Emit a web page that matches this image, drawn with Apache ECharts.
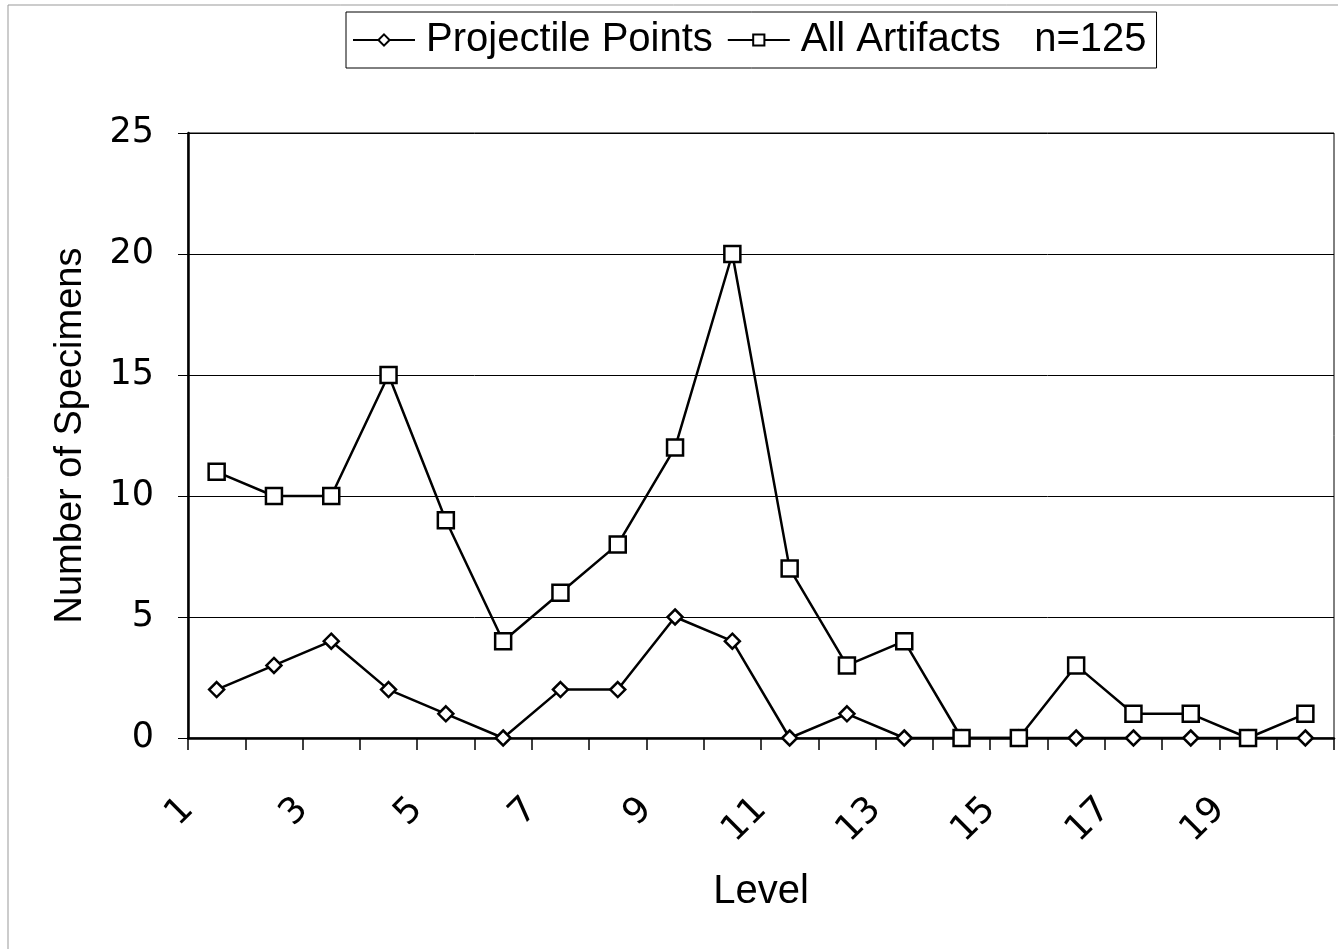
<!DOCTYPE html>
<html>
<head>
<meta charset="utf-8">
<script src="https://cdn.jsdelivr.net/npm/echarts@6/dist/echarts.min.js"></script>
<style>
html,body{margin:0;padding:0;background:#fff;}
#chart{width:1338px;height:949px;}
</style>
</head>
<body>
<div id="chart"></div>
<script>
const levels = ['1','2','3','4','5','6','7','8','9','10','11','12','13','14','15','16','17','18','19','20'];
const tickLabels = ['1','3','5','7','9','11','13','15','17','19'];
const projectilePoints = [2,3,4,2,1,0,2,2,5,4,0,1,0,0,0,0,0,0,0,0];
const allArtifacts = [11,10,10,15,9,4,6,8,12,20,7,3,4,0,0,3,1,1,0,1];
const yTicks = [0,5,10,15,20,25];
const seriesNames = ['Projectile Points', 'All Artifacts   n=125'];

const textFont = 'Liberation Sans';
const numFont = 'DejaVu Sans';

const chart = echarts.init(document.getElementById('chart'), null, {renderer:'canvas'});
chart.setOption({
  animation:false,
  backgroundColor:'#fff',
  graphic:[{type:'rect', shape:{x:8,y:5,width:1400,height:1000}, style:{fill:'none', stroke:'#999', lineWidth:1}, silent:true}],
  legend:{
    show:true,
    left:346, top:12,
    padding:[8,10,8,6],
    borderColor:'#000', borderWidth:1,
    itemWidth:62, itemHeight:14, itemGap:14,
    textStyle:{fontFamily:textFont, fontSize:40, color:'#000', padding:[0,0,0,6]},
    data:seriesNames
  },
  grid:{left:188, right:4, top:133, bottom:211, show:true, borderColor:'#000', borderWidth:1, backgroundColor:'transparent'},
  xAxis:[{
    type:'category',
    data:levels,
    boundaryGap:true,
    name:'Level',
    nameLocation:'middle',
    nameGap:134,
    nameTextStyle:{fontFamily:textFont, fontSize:40, color:'#000'},
    axisLine:{lineStyle:{color:'#000', width:2.5}},
    axisTick:{show:true, interval:0, length:12, lineStyle:{color:'#000', width:1.5}},
    axisLabel:{show:false},
    splitLine:{show:false}
  },{
    type:'value',
    position:'bottom',
    min:0, max:20, interval:2,
    axisLine:{show:false},
    axisTick:{show:false},
    splitLine:{show:false},
    axisLabel:{
      show:true, rotate:45, margin:66,
      fontFamily:numFont, fontSize:36, color:'#000',
      formatter:function(v){ const i = Math.round(v/2); return tickLabels[i] !== undefined ? tickLabels[i] : ''; }
    }
  }],
  yAxis:{
    type:'value',
    min:yTicks[0], max:yTicks[yTicks.length-1], interval:5,
    name:'Number of Specimens',
    nameLocation:'middle',
    nameGap:98,
    nameTextStyle:{fontFamily:textFont, fontSize:38, color:'#000'},
    axisLine:{show:true, lineStyle:{color:'#000', width:2.5}},
    axisTick:{show:true, length:10, lineStyle:{color:'#000', width:1}},
    axisLabel:{margin:34, fontFamily:numFont, fontSize:35, color:'#000'},
    splitLine:{show:true, lineStyle:{color:'#000', width:1}}
  },
  series:[{
    name:seriesNames[0],
    type:'line',
    xAxisIndex:0,
    data:projectilePoints,
    symbol:'diamond', symbolSize:15,
    itemStyle:{color:'#fff', borderColor:'#000', borderWidth:2.5},
    lineStyle:{color:'#000', width:2.5},
    z:2
  },{
    name:seriesNames[1],
    type:'line',
    xAxisIndex:0,
    data:allArtifacts,
    symbol:'rect', symbolSize:16,
    itemStyle:{color:'#fff', borderColor:'#000', borderWidth:2.5},
    lineStyle:{color:'#000', width:2.5},
    z:3
  }]
});
</script>
</body>
</html>
